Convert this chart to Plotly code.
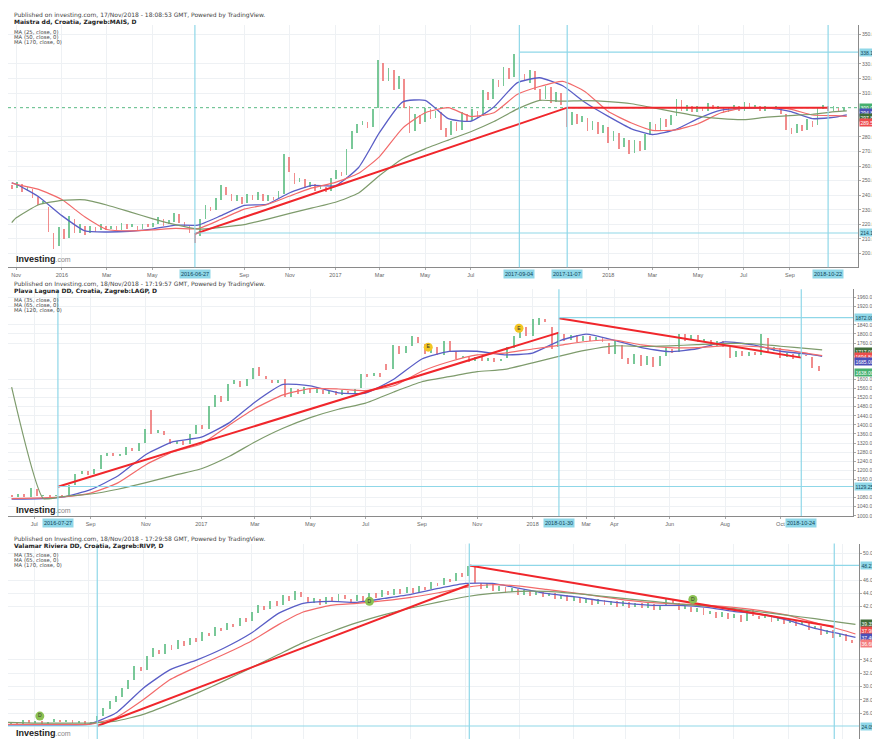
import plotly.graph_objects as go
import pandas as pd

# The page body has an 8px margin, so the figure is drawn 8px in from the
# top-left corner of the 880x741 window; the figure is sized to fit that.
OFF = 8
W, H = 880 - OFF, 741 - OFF
FONT = "Liberation Sans, Arial, sans-serif"
HFONT = "DejaVu Sans, Verdana, sans-serif"
CYAN = "#8fd7e8"
CYAN_TXT = "#10465a"
UP = "rgba(88,186,126,0.80)"
DN = "rgba(238,112,112,0.80)"
C_BLUE = "#5a5ec6"
C_RED = "#f26a6a"
C_OLIVE = "#7e9b6c"
C_TREND = "#f0262b"
GRID = "#eef1f4"

# ---------------- Panel 1 : Maistra ----------------
p1_title = "Published on investing.com, 17/Nov/2018 - 18:08:53 GMT, Powered by TradingView."
p1_name = "Maistra dd, Croatia, Zagreb:MAIS, D"
p1_ma_labels = ["MA (25, close, 0)", "MA (50, close, 0)", "MA (170, close, 0)"]
p1_first_week = "2015-10-26"
p1_open = [247,245,248,243,244,239,234,232,214,205, 217,211,224,214,219,214,218,216,219,217,
           219,216,220,218,219,217,220,218,220,224, 220,222,227,222,219,214,212,224,232,230,
           237,246,241,236,239,235,240,237,241,236, 239,238,241,266,255,249,251,246,248,244,
           246,243,251,256,254,272,283,288,290,287, 300,331,318,326,313,320,301,284,295,290,
           299,293,297,286,281,290,285,296,291,298, 294,311,306,319,315,327,321,335,323,317,
           325,313,306,314,304,310,300,288,296,290, 293,285,290,283,287,277,283,273,278,269,
           277,271,281,289,285,292,288,294,305,298, 301,297,300,298,302,299,300,297,299,301,
           298,303,300,301,298,300,299,300,296,286, 283,288,285,291,288,299,301,298,300,298]
p1_close = [244,249,242,246,238,233,236,215,203,218, 210,226,214,220,213,219,215,220,216,219,
            216,221,217,220,216,220,218,221,225,219, 223,228,221,218,214,207,224,233,229,238,
            247,240,236,240,234,241,237,242,236,240, 237,243,268,256,248,252,245,249,243,247,
            242,252,257,253,272,284,289,291,286,299, 333,318,327,312,322,300,283,296,289,300,
            292,298,285,280,291,284,297,290,299,293, 312,305,320,314,328,320,337,322,318,326,
            312,305,315,303,311,302,287,297,289,294, 284,291,282,288,276,284,272,279,268,278,
            270,282,290,284,293,287,295,306,298,302, 297,301,298,303,299,301,297,300,302,298,
            304,300,302,298,301,299,301,296,285,282, 289,284,292,287,300,302,298,301,297,300]
p1_ma_dates = (["2015-10-26"] + [d.strftime("%Y-%m-%d") for d in pd.date_range("2015-11-01", "2018-11-01", freq="MS")]
               + ["2018-11-16"])
p1_ma_fast = [248.5,247.5,239,226,215.5,214.8,215.3,216.8,219.5,219.5,226,233,233.7,241.7,246.7,246.5,259,283,304,305,
              292.5,290.7,300.5,317,320.5,315,303.5,294,285.5,281.6,285,292.5,298.3,299.5,299.8,297.5,292.5,293.5,295]
p1_ma_mid = [248.5,247.5,244,237,225,216.5,215.5,216.2,217.3,217.1,223.5,230.5,233.5,239.5,245,248.8,255,266.5,286,296.5,
             300,294,296.5,309,314.5,318,311,297.3,289.5,284.5,284.8,289,296.5,299.8,299.8,299,295,294.5,294]
p1_ma_slow = [221.2,224.5,233.5,236.5,236.8,233.3,228.6,224,219.8,216.8,218,219.8,223.5,227.5,231.3,235.2,241.5,253.5,265,271.8,
              277.8,283.5,290.5,299,305,304.5,304.8,304.2,302.7,300,297,294.2,292.5,291.8,293.5,294.6,295.5,297.3,297.8]
p1_trend_dates = ["2016-06-27", "2017-11-07", "2018-10-22"]
p1_trend_vals = [213.5, 300.0, 300.0]
p1_marks = ["2016-06-27", "2017-09-04", "2017-11-07", "2018-10-22"]
p1_mark_text = ["2016-06-27", "2017-09-04", "2017-11-07", "2018-10-22"]
p1_levels = [338.10, 214.15]
p1_level_from = ["2017-09-04", "2016-06-27"]
p1_last = 300.00
p1_box_vals = [338.10, 300.2, 296.4, 293.0, 289.6, 214.15]
p1_box_text = ["338.10", "300.00", "294.86", "297.87", "289.51", "214.15"]
p1_tick_dates = ["2015-11-01", "2016-01-01", "2016-03-01", "2016-05-01", "2016-09-01", "2016-11-01", "2017-01-01",
                 "2017-03-01", "2017-05-01", "2017-07-01", "2018-01-01", "2018-03-01", "2018-05-01", "2018-07-01", "2018-09-01"]
p1_tick_text = ["Nov", "2016", "Mar", "May", "Sep", "Nov", "2017", "Mar", "May", "Jul", "2018", "Mar", "May", "Jul", "Sep"]

# ---------------- Panel 2 : Plava Laguna ----------------
p2_title = "Published on Investing.com, 18/Nov/2018 - 17:19:57 GMT, Powered by TradingView."
p2_name = "Plava Laguna DD, Croatia, Zagreb:LAGP, D"
p2_ma_labels = ["MA (35, close, 0)", "MA (65, close, 0)", "MA (120, close, 0)"]
p2_first_week = "2016-06-06"
p2_open = [1090,1083,1094,1082,1115,1088,1091,1084,1089,1087, 1133,1183,1196,1182,1205,1262,1274,1262,1268,1298,
           1286,1320,1465,1362,1374,1335,1316,1329,1315,1358, 1398,1382,1478,1528,1502,1578,1593,1568,1600,1655,
           1616,1598,1584,1600,1522,1558,1536,1560,1541,1553, 1536,1548,1532,1550,1540,1560,1622,1612,1626,1665,
           1645,1748,1714,1745,1785,1756,1714,1740,1708,1768, 1722,1692,1699,1678,1696,1681,1692,1680,1692,1738,
           1780,1828,1792,1840,1865,1828,1740,1798,1772,1793, 1768,1788,1772,1780,1760,1712,1750,1692,1668,1706,
           1662,1698,1660,1702,1735,1718,1798,1772,1793,1768, 1773,1748,1766,1740,1697,1723,1702,1718,1706,1780,
           1722,1738,1697,1713,1692,1708,1698,1660]
p2_close = [1082,1095,1080,1120,1088,1092,1083,1090,1086,1135, 1185,1198,1180,1205,1265,1275,1260,1270,1300,1285,
            1320,1380,1360,1375,1355,1315,1330,1312,1360,1400, 1380,1480,1530,1500,1580,1595,1565,1600,1650,1615,
            1600,1585,1595,1520,1560,1535,1565,1540,1555,1535, 1550,1530,1552,1538,1556,1625,1610,1628,1608,1640,
            1750,1712,1745,1790,1758,1712,1745,1705,1770,1720, 1690,1700,1675,1698,1680,1694,1676,1690,1740,1790,
            1830,1790,1865,1870,1850,1735,1800,1770,1795,1765, 1790,1770,1785,1762,1710,1770,1690,1665,1710,1660,
            1700,1655,1700,1740,1715,1800,1770,1795,1765,1775, 1745,1768,1742,1695,1725,1700,1720,1705,1800,1720,
            1740,1695,1715,1690,1710,1700,1650,1638]
p2_ma_dates = (["2016-06-06", "2016-07-11"] + [d.strftime("%Y-%m-%d") for d in pd.date_range("2016-08-01", "2018-11-01", freq="MS")]
               + ["2018-11-16"])
p2_ma_fast = [1073,1076,1082,1115,1175,1270,1326,1346,1410,1500,1578,1572,1541,1540,1601,1690,1723,1724,1708,1716,
              1772,1799,1772,1740,1722,1735,1765,1752,1724,1711,1702]
p2_ma_mid = [1076,1079,1083,1100,1145,1225,1282,1316,1400,1472,1532,1560,1558,1551,1572,1636,1678,1708,1716,1734,
             1751,1767,1773,1752,1740,1740,1748,1745,1733,1714,1705]
p2_ma_slow = [1566,1076,1085,1096,1117,1146,1177,1207,1262,1325,1385,1432,1469,1496,1545,1590,1612,1634,1644,1673,
              1704,1729,1748,1745,1748,1753,1758,1757,1746,1736,1730]
p2_trend_a_dates = ["2016-07-27", "2018-01-30"]
p2_trend_a_vals = [1128, 1806]
p2_trend_b_dates = ["2018-01-30", "2018-10-24"]
p2_trend_b_vals = [1869, 1696]
p2_marks = ["2016-07-27", "2018-01-30", "2018-10-24"]
p2_mark_text = ["2016-07-27", "2018-01-30", "2018-10-24"]
p2_levels = [1872.0, 1129.25]
p2_level_from = ["2018-01-30", "2016-07-27"]
p2_box_vals = [1872.0, 1721, 1699, 1679, 1630, 1129.25]
p2_box_text = ["1872.00", "1717.00", "1694.84", "1685.00", "1638.00", "1129.25"]
p2_event_dates = ["2017-09-08", "2017-12-17"]
p2_event_vals = [1742, 1825]
p2_event_text = ["E", "E"]
p2_tick_dates = ["2016-07-01", "2016-09-01", "2016-11-01", "2017-01-01", "2017-03-01", "2017-05-01", "2017-07-01",
                 "2017-09-01", "2017-11-01", "2018-01-01", "2018-03-01", "2018-04-01", "2018-06-01", "2018-08-01", "2018-10-01"]
p2_tick_text = ["Jul", "Sep", "Nov", "2017", "Mar", "May", "Jul", "Sep", "Nov", "2018", "Mar", "Apr", "Jun", "Aug", "Oct"]

# ---------------- Panel 3 : Valamar Riviera ----------------
p3_title = "Published on Investing.com, 18/Nov/2018 - 17:29:58 GMT, Powered by TradingView."
p3_name = "Valamar Riviera DD, Croatia, Zagreb:RIVP, D"
p3_ma_labels = ["MA (35, close, 0)", "MA (65, close, 0)", "MA (170, close, 0)"]
p3_first_week = "2016-04-04"
p3_open = [24.3,24.8,24.5,25.0,24.6,24.9,24.4,24.8,25.1,24.7,25.0,24.6,24.9,24.5,24.8,
           25.6,26.7,27.8,28.5,29.7, 31.0,33.0,32.5,34.5,
           35.6,35.0,36.3,35.7,36.9,36.3,37.3,36.9, 38.1,37.7,38.9,38.5,39.5,39.1,40.3,39.9,
           41.1,42.2,41.7,42.9,42.3,43.7,43.1,44.3, 43.5,42.7,43.3,42.5,43.5,42.9,43.9,43.3,
           42.9,43.7,43.1,44.1,43.5,44.5,43.9,44.7,44.1,44.9,44.3, 45.1,44.7,45.7,45.3,46.3,45.9,47.1,46.7,
           48.0,45.7,44.9,45.5,44.5,45.1,44.3,44.8,43.9,44.5,43.8,44.3,43.7,
           44.1,43.3,43.8,43.0,43.5,42.7,43.3,42.5,43.1,42.4,42.9,42.2,42.8,42.0,42.6,41.9,
           42.5,41.6,42.3,43.3,42.6,41.7,42.1,41.3,
           41.8,40.9,41.3,40.5,41.1,40.3,40.8,39.9,41.5,40.7,40.3,40.8,39.9,40.3,39.6,40.1,39.3,
           39.7,38.7,39.1,37.9,38.5,37.5,37.9,37.0]
p3_close = [24.8,24.4,25.0,24.6,24.9,24.3,24.8,25.2,24.7,25.0,24.6,24.9,24.5,24.8,25.6,
            26.8,27.9,28.6,29.8,31.0, 33.2,32.4,34.6,35.8,
            34.9,36.4,35.6,37.0,36.2,37.4,36.8,38.2, 37.6,39.0,38.4,39.6,39.0,40.4,39.8,41.2,
            42.3,41.6,43.0,42.2,43.8,43.0,44.4,43.6, 42.6,43.4,42.4,43.6,42.8,44.0,43.2,42.8,
            43.8,43.0,44.2,43.4,44.6,43.8,44.8,44.0,45.0,44.2,45.2, 44.6,45.8,45.2,46.4,45.8,47.2,46.6,48.2,
            45.6,44.8,45.6,44.4,45.2,44.2,44.9,43.8,44.6,43.7,44.4,43.6,44.2,
            43.2,43.9,42.9,43.6,42.6,43.4,42.4,43.2,42.3,43.0,42.1,42.9,41.9,42.7,41.8,42.6,
            41.5,42.4,43.4,42.5,41.6,42.2,41.2,41.9,
            40.8,41.4,40.4,41.2,40.2,40.9,39.8,41.6,40.6,40.2,40.9,39.8,40.4,39.5,40.2,39.2,39.8,
            38.6,39.2,37.8,38.6,37.4,38.0,36.9,36.6]
p3_ma_dates = [d.strftime("%Y-%m-%d") for d in pd.date_range("2016-04-01", "2018-11-01", freq="MS")] + ["2018-11-16"]
p3_ma_fast = [24.2,24.2,24.2,24.3,26,29.75,32.5,34,35.75,38,41,42.5,42.8,42.65,43.25,43.85,44.75,45.5,45.5,44.75,
              44,43.5,42.9,42.5,42.2,42.2,41.9,41.3,40.85,39.95,38.75,37.85,37.4]
p3_ma_mid = [24.3,24.3,24.3,24.3,25.3,28.0,31.0,33.0,34.8,36.8,39.3,41.2,42.2,42.5,42.9,43.4,44.1,44.9,45.3,45.1,
             44.6,44.1,43.5,43.0,42.6,42.4,42.2,41.9,41.4,40.7,39.6,38.5,37.9]
p3_ma_slow = [24.6,24.5,24.5,24.5,24.8,25.8,27.3,29.0,30.8,32.8,34.8,36.6,38.2,39.6,40.8,41.8,42.7,43.5,44.0,44.3,
              44.3,44.0,43.6,43.2,42.8,42.4,42.1,41.7,41.2,40.7,40.2,39.6,39.35]
p3_trend_a_dates = ["2016-07-11", "2017-09-05"]
p3_trend_a_vals = [24.05, 45.3]
p3_trend_b_dates = ["2017-09-05", "2018-10-23"]
p3_trend_b_vals = [48.2, 39.0]
p3_marks = ["2016-07-11", "2017-09-05", "2018-10-23"]
p3_levels = [48.21, 24.05]
p3_level_from = ["2017-09-05", "2016-04-01"]
p3_box_vals = [48.21, 39.45, 38.35, 37.4, 36.45, 24.05]
p3_box_text = ["48.21", "39.35", "37.90", "37.40", "36.60", "24.05"]
p3_event_dates = ["2016-05-07", "2017-05-15", "2018-05-16"]
p3_event_vals = [25.55, 42.8, 43.1]
p3_event_text = ["D", "D", "D"]

fig = go.Figure()
shapes, annos = [], []
layout = dict(width=W, height=H, margin=dict(l=0, r=0, t=0, b=0), paper_bgcolor="white",
              plot_bgcolor="white", showlegend=False, bargap=0, font=dict(family=FONT))


def fx(p):
    return (p - OFF) / W


def fy(p):
    return 1 - (p - OFF) / H


panels = [
    dict(n=1, title=p1_title, name=p1_name, ma_labels=p1_ma_labels, start=p1_first_week, op=p1_open, cl=p1_close,
         ma_dates=p1_ma_dates, mas=[p1_ma_fast, p1_ma_mid, p1_ma_slow],
         trends=[(p1_trend_dates, p1_trend_vals)], marks=p1_marks, mark_text=p1_mark_text,
         levels=p1_levels, level_from=p1_level_from, last=p1_last,
         box_vals=p1_box_vals, box_text=p1_box_text,
         box_bg=[CYAN, "#46b06e", "#4b50b8", "#3f6b38", "#ee4c4c", CYAN],
         box_fg=[CYAN_TXT, "white", "white", "white", "white", CYAN_TXT],
         events=None, xr=["2015-10-21", "2018-12-01"], yr=[190.6, 356.7], tick0=200, dtick=10,
         xpx=(8, 858), ypx=(25, 268), txt_y=(15, 22.5, [32.0, 37.0, 42.0]), logo_y=260,
         tickv=p1_tick_dates, tickt=p1_tick_text, show_x=True),
    dict(n=2, title=p2_title, name=p2_name, ma_labels=p2_ma_labels, start=p2_first_week, op=p2_open, cl=p2_close,
         ma_dates=p2_ma_dates, mas=[p2_ma_fast, p2_ma_mid, p2_ma_slow],
         trends=[(p2_trend_a_dates, p2_trend_a_vals), (p2_trend_b_dates, p2_trend_b_vals)],
         marks=p2_marks, mark_text=p2_mark_text, levels=p2_levels, level_from=p2_level_from, last=None,
         box_vals=p2_box_vals, box_text=p2_box_text,
         box_bg=[CYAN, "#3f6b38", "#ee4c4c", "#4b50b8", "#46b06e", CYAN],
         box_fg=[CYAN_TXT, "white", "white", "white", "white", CYAN_TXT],
         events=(p2_event_dates, p2_event_vals, p2_event_text, "#f3c623"),
         xr=["2016-06-02", "2018-12-20"], yr=[998.7, 1996.9], tick0=1000, dtick=40,
         xpx=(8, 853), ypx=(290, 517.5), txt_y=(285, 291.7, [300.8, 305.8, 310.8]), logo_y=511,
         tickv=p2_tick_dates, tickt=p2_tick_text, show_x=True),
    dict(n=3, title=p3_title, name=p3_name, ma_labels=p3_ma_labels, start=p3_first_week, op=p3_open, cl=p3_close,
         ma_dates=p3_ma_dates, mas=[p3_ma_fast, p3_ma_mid, p3_ma_slow],
         trends=[(p3_trend_a_dates, p3_trend_a_vals), (p3_trend_b_dates, p3_trend_b_vals)],
         marks=p3_marks, mark_text=None, levels=p3_levels, level_from=p3_level_from, last=None,
         box_vals=p3_box_vals, box_text=p3_box_text,
         box_bg=[CYAN, "#3f6b38", "#ee4c4c", "#4b50b8", "#f47c7c", CYAN],
         box_fg=[CYAN_TXT, "white", "white", "white", "white", CYAN_TXT],
         events=(p3_event_dates, p3_event_vals, p3_event_text, "#8cc152"),
         xr=["2016-04-01", "2018-11-20"], yr=[22.1, 51.5], tick0=24, dtick=2,
         xpx=(8, 859), ypx=(545, 741), txt_y=(540, 547, [556.8, 561.8, 566.8]), logo_y=735,
         tickv=None, tickt=None, show_x=False),
]

for P in panels:
    n = P["n"]
    xs = "x" if n == 1 else f"x{n}"
    ys = "y" if n == 1 else f"y{n}"
    xk = "xaxis" if n == 1 else f"xaxis{n}"
    yk = "yaxis" if n == 1 else f"yaxis{n}"

    dates = pd.date_range(P["start"], periods=len(P["op"]), freq="7D")
    lo = [min(o, c) for o, c in zip(P["op"], P["cl"])]
    ht = [abs(c - o) for o, c in zip(P["op"], P["cl"])]
    col = [UP if c >= o else DN for o, c in zip(P["op"], P["cl"])]
    fig.add_trace(go.Bar(x=dates, y=ht, base=lo, marker=dict(color=col, line=dict(width=0)),
                         width=2.2 * 86400000, xaxis=xs, yaxis=ys, hoverinfo="skip"))
    for vals, c, w in zip(P["mas"], [C_BLUE, C_RED, C_OLIVE], [1.3, 1.2, 1.2]):
        fig.add_trace(go.Scatter(x=P["ma_dates"], y=vals, mode="lines",
                                 line=dict(color=c, width=w, shape="spline", smoothing=0.5),
                                 xaxis=xs, yaxis=ys, hoverinfo="skip"))
    for td, tv in P["trends"]:
        fig.add_trace(go.Scatter(x=td, y=tv, mode="lines", line=dict(color=C_TREND, width=2),
                                 xaxis=xs, yaxis=ys, hoverinfo="skip"))
    if P["events"]:
        ed, ev, et, ec = P["events"]
        fig.add_trace(go.Scatter(x=ed, y=ev, mode="markers+text", text=et,
                                 marker=dict(size=9, color=ec, line=dict(width=0)),
                                 textfont=dict(size=5, color="#333"), textposition="middle center",
                                 xaxis=xs, yaxis=ys, hoverinfo="skip"))

    x0p, x1p = P["xpx"]
    y0p, y1p = P["ypx"]
    layout[xk] = dict(domain=[fx(x0p), fx(x1p)], range=P["xr"], type="date", anchor=ys,
                      showgrid=True, gridcolor=GRID, gridwidth=1, zeroline=False,
                      showline=P["show_x"], linecolor="#8a8a8a", linewidth=1,
                      ticks="outside" if P["show_x"] else "", ticklen=2, tickcolor="#aaa",
                      tickfont=dict(size=5.5, color="#666", family=FONT), showticklabels=P["show_x"])
    if P["tickv"]:
        layout[xk].update(tickmode="array", tickvals=P["tickv"], ticktext=P["tickt"])
    else:
        layout[xk].update(tick0="2016-05-01", dtick="M2")

    # price-scale ticks; like TradingView, labels hidden behind a price box are dropped
    ppu = (y1p - y0p) / (P["yr"][1] - P["yr"][0])
    yt, v = [], P["tick0"]
    while v <= P["yr"][1]:
        if all(abs(v - b) * ppu >= 6 for b in P["box_vals"]):
            yt.append(v)
        v += P["dtick"]
    layout[yk] = dict(domain=[max(0.0, fy(y1p)), fy(y0p)], range=P["yr"], side="right", anchor=xs,
                      tickmode="array", tickvals=yt, ticktext=[f"{t:.2f}" for t in yt],
                      showgrid=True, gridcolor=GRID, zeroline=False, showline=True, linecolor="#8a8a8a",
                      linewidth=1, ticks="outside", ticklen=2, tickcolor="#aaa",
                      tickfont=dict(size=5, color="#666", family=FONT))

    # vertical marker lines
    for d in P["marks"]:
        shapes.append(dict(type="line", xref=xs, yref=f"{ys} domain", x0=d, x1=d, y0=0, y1=1,
                           line=dict(color=CYAN, width=1.2), layer="above"))
    # horizontal level lines
    for lv, d in zip(P["levels"], P["level_from"]):
        shapes.append(dict(type="line", xref=xs, yref=ys, x0=d, x1=P["xr"][1], y0=lv, y1=lv,
                           line=dict(color=CYAN, width=1.1), layer="above"))
    if P["last"] is not None:
        shapes.append(dict(type="line", xref=f"{xs} domain", yref=ys, x0=0, x1=1, y0=P["last"], y1=P["last"],
                           line=dict(color="#59b983", width=1, dash="dot"), layer="below"))
    # price boxes on the right axis
    for bv, t, bg, fg in zip(P["box_vals"], P["box_text"], P["box_bg"], P["box_fg"]):
        annos.append(dict(xref="paper", yref=ys, x=fx(x1p + 1), y=bv, xanchor="left", yanchor="middle",
                          text=t, showarrow=False, bgcolor=bg, font=dict(size=5, color=fg, family=FONT),
                          borderpad=0.5))
    # date boxes on the time axis
    if P["show_x"] and P["mark_text"]:
        for d, t in zip(P["marks"], P["mark_text"]):
            annos.append(dict(xref=xs, yref="paper", x=d, y=fy(y1p + 1.5), xanchor="center", yanchor="top",
                              text=t, showarrow=False, bgcolor=CYAN,
                              font=dict(size=5.5, color=CYAN_TXT, family=FONT), borderpad=1))
    # header texts
    ty1, ty2, tmas = P["txt_y"]
    annos.append(dict(xref="paper", yref="paper", x=fx(12), y=fy(ty1), xanchor="left", yanchor="middle",
                      text=P["title"], showarrow=False, font=dict(size=6, color="#444", family=HFONT)))
    annos.append(dict(xref="paper", yref="paper", x=fx(12), y=fy(ty2), xanchor="left", yanchor="middle",
                      text="<b>" + P["name"] + "</b>", showarrow=False, font=dict(size=6, color="#222", family=HFONT)))
    for yy, lab in zip(tmas, P["ma_labels"]):
        annos.append(dict(xref="paper", yref="paper", x=fx(12), y=fy(yy), xanchor="left", yanchor="middle",
                          text=lab, showarrow=False, font=dict(size=5.3, color="#444", family=HFONT)))
    annos.append(dict(xref="paper", yref="paper", x=fx(14), y=fy(P["logo_y"]), xanchor="left", yanchor="middle",
                      text="<b>Investing</b><span style='font-size:7px;color:#8a8a8a'>.com</span>",
                      showarrow=False, font=dict(size=9, color="#1c1c1c", family=FONT)))

layout["shapes"] = shapes
layout["annotations"] = annos
fig.update_layout(**layout)
fig.write_html("out.html")
